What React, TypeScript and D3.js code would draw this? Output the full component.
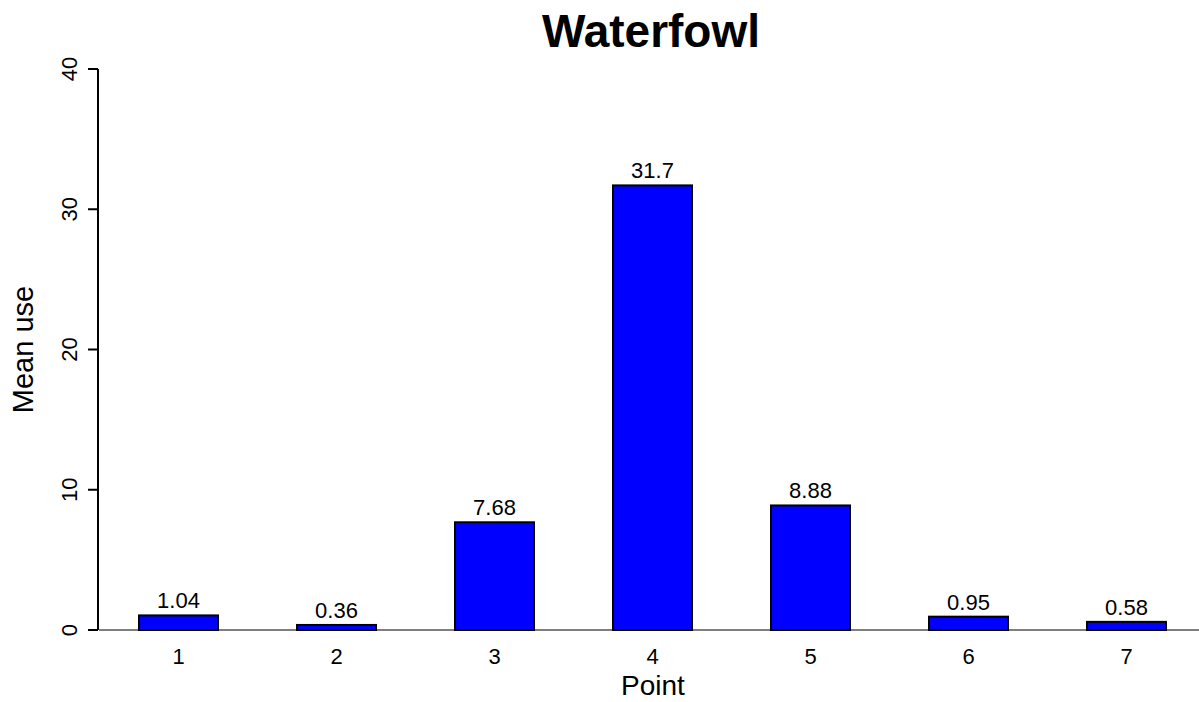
import { useEffect, useRef } from 'react';
import * as d3 from 'd3';

const points = ['1', '2', '3', '4', '5', '6', '7'];
const meanUse = [1.04, 0.36, 7.68, 31.7, 8.88, 0.95, 0.58];
const barLabels = ['1.04', '0.36', '7.68', '31.7', '8.88', '0.95', '0.58'];
const yTicks = [0, 10, 20, 30, 40];

const App = () => {
  const svgRef = useRef<SVGSVGElement | null>(null);

  useEffect(() => {
    if (!svgRef.current) return;
    const svg = d3.select(svgRef.current);
    svg.selectAll('*').remove();

    const font = 'Liberation Sans, Arial, Helvetica, sans-serif';
    const width = 1199;
    const height = 702;

    svg.attr('width', width).attr('height', height).style('font-family', font);

    // x: R-style barplot, bar width = half the step
    const x = d3.scaleBand<string>()
      .domain(points)
      .range([99.5, 1205.5])
      .paddingInner(0.5)
      .paddingOuter(0.25);

    const y = d3.scaleLinear().domain([0, 40]).range([630, 69]);

    // baseline
    svg.append('line')
      .attr('x1', 99).attr('x2', width)
      .attr('y1', y(0)).attr('y2', y(0))
      .attr('stroke', '#555').attr('stroke-width', 1.5);

    // bars
    svg.append('g')
      .selectAll('rect')
      .data(meanUse)
      .join('rect')
      .attr('x', (_, i) => x(points[i])!)
      .attr('width', x.bandwidth())
      .attr('y', (d) => y(d))
      .attr('height', (d) => y(0) - y(d))
      .attr('fill', '#0000FF')
      .attr('stroke', '#000')
      .attr('stroke-width', 2);

    // value labels
    svg.append('g')
      .selectAll('text')
      .data(meanUse)
      .join('text')
      .attr('x', (_, i) => x(points[i])! + x.bandwidth() / 2)
      .attr('y', (d) => y(d) - 7)
      .attr('text-anchor', 'middle')
      .attr('font-size', '22px')
      .attr('fill', '#000')
      .text((_, i) => barLabels[i]);

    // x tick labels
    svg.append('g')
      .selectAll('text')
      .data(points)
      .join('text')
      .attr('x', (d) => x(d)! + x.bandwidth() / 2)
      .attr('y', 664)
      .attr('text-anchor', 'middle')
      .attr('font-size', '22px')
      .text((d) => d);

    // y axis
    const yAxis = svg.append('g');
    yAxis.append('line')
      .attr('x1', 98).attr('x2', 98)
      .attr('y1', y(0)).attr('y2', y(40))
      .attr('stroke', '#000').attr('stroke-width', 2);
    yAxis.selectAll('line.tick')
      .data(yTicks)
      .join('line')
      .attr('class', 'tick')
      .attr('x1', 88).attr('x2', 98)
      .attr('y1', (d) => y(d)).attr('y2', (d) => y(d))
      .attr('stroke', '#000').attr('stroke-width', 2);
    yAxis.selectAll('text')
      .data(yTicks)
      .join('text')
      .attr('transform', (d) => `translate(77,${y(d)}) rotate(-90)`)
      .attr('text-anchor', 'middle')
      .attr('font-size', '22px')
      .text((d) => d);

    // titles
    svg.append('text')
      .attr('x', 651).attr('y', 47)
      .attr('text-anchor', 'middle')
      .attr('font-size', '46px')
      .attr('font-weight', 'bold')
      .text('Waterfowl');

    svg.append('text')
      .attr('x', 653).attr('y', 695)
      .attr('text-anchor', 'middle')
      .attr('font-size', '28px')
      .text('Point');

    svg.append('text')
      .attr('transform', `translate(33,${(y(0) + y(40)) / 2}) rotate(-90)`)
      .attr('text-anchor', 'middle')
      .attr('font-size', '29px')
      .text('Mean use');
  }, []);

  return (
    <div style={{ position: 'absolute', left: 0, top: 0, width: 1199, height: 702, overflow: 'hidden' }}>
      <svg ref={svgRef} style={{ display: 'block' }}></svg>
    </div>
  );
};

export default App;
